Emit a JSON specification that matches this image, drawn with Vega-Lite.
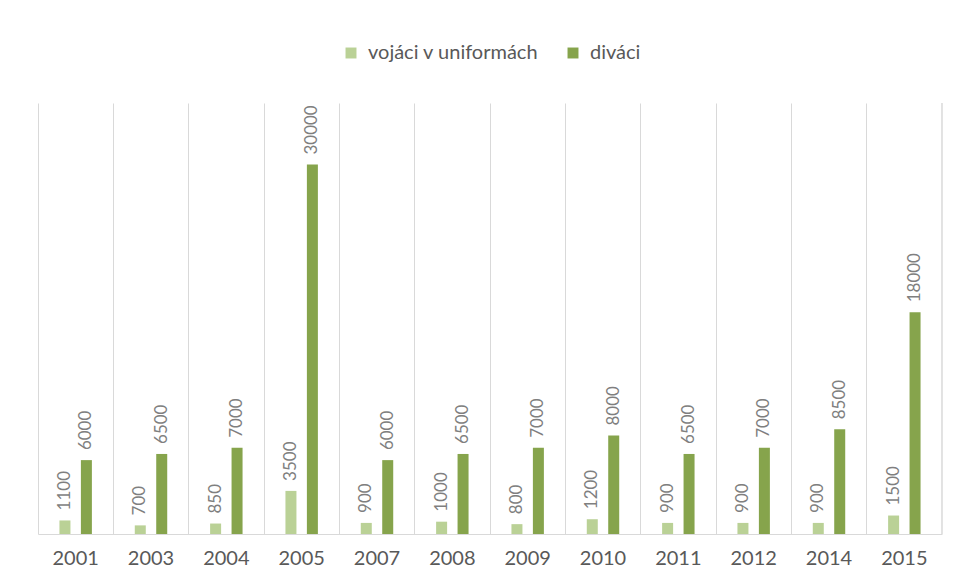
{
  "$schema": "https://vega.github.io/schema/vega-lite/v6.json",
  "width": 904,
  "height": 431,
  "autosize": {"type": "none"},
  "padding": {"top": 103, "left": 38, "right": 15, "bottom": 51},
  "background": "white",
  "config": {"view": {"stroke": null}, "font": "Lato"},
  "data": {
    "values": [
      {"year": "2001", "series": "vojáci v uniformách", "value": 1100},
      {"year": "2001", "series": "diváci", "value": 6000},
      {"year": "2003", "series": "vojáci v uniformách", "value": 700},
      {"year": "2003", "series": "diváci", "value": 6500},
      {"year": "2004", "series": "vojáci v uniformách", "value": 850},
      {"year": "2004", "series": "diváci", "value": 7000},
      {"year": "2005", "series": "vojáci v uniformách", "value": 3500},
      {"year": "2005", "series": "diváci", "value": 30000},
      {"year": "2007", "series": "vojáci v uniformách", "value": 900},
      {"year": "2007", "series": "diváci", "value": 6000},
      {"year": "2008", "series": "vojáci v uniformách", "value": 1000},
      {"year": "2008", "series": "diváci", "value": 6500},
      {"year": "2009", "series": "vojáci v uniformách", "value": 800},
      {"year": "2009", "series": "diváci", "value": 7000},
      {"year": "2010", "series": "vojáci v uniformách", "value": 1200},
      {"year": "2010", "series": "diváci", "value": 8000},
      {"year": "2011", "series": "vojáci v uniformách", "value": 900},
      {"year": "2011", "series": "diváci", "value": 6500},
      {"year": "2012", "series": "vojáci v uniformách", "value": 900},
      {"year": "2012", "series": "diváci", "value": 7000},
      {"year": "2014", "series": "vojáci v uniformách", "value": 900},
      {"year": "2014", "series": "diváci", "value": 8500},
      {"year": "2015", "series": "vojáci v uniformách", "value": 1500},
      {"year": "2015", "series": "diváci", "value": 18000}
    ]
  },
  "encoding": {
    "x": {
      "field": "year",
      "type": "nominal",
      "scale": {"paddingInner": 0, "paddingOuter": 0},
      "axis": {
        "title": null,
        "labelAngle": 0,
        "labelFontSize": 20,
        "labelColor": "#595959",
        "labelPadding": 14,
        "ticks": false,
        "grid": true,
        "gridColor": "#d9d9d9",
        "gridWidth": 1,
        "domainColor": "#d9d9d9",
        "domainWidth": 1,
        "bandPosition": 0
      }
    },
    "xOffset": {
      "field": "series",
      "type": "nominal",
      "sort": ["vojáci v uniformách", "diváci"],
      "scale": {"paddingInner": 0.487, "paddingOuter": 1.17}
    },
    "y": {
      "field": "value",
      "type": "quantitative",
      "scale": {"domain": [0, 35000]},
      "axis": null
    }
  },
  "layer": [
    {
      "mark": {"type": "bar"},
      "encoding": {
        "color": {
          "field": "series",
          "type": "nominal",
          "sort": ["vojáci v uniformách", "diváci"],
          "scale": {"domain": ["vojáci v uniformách", "diváci"], "range": ["#bad196", "#86a44c"]},
          "legend": {
            "title": null,
            "orient": "none",
            "direction": "horizontal",
            "legendX": 303,
            "legendY": -60,
            "labelFontSize": 20,
            "labelColor": "#595959",
            "labelFont": "Lato",
            "labelLimit": 0,
            "symbolType": "square",
            "symbolSize": 120,
            "symbolStrokeWidth": 0,
            "labelOffset": 7,
            "columnPadding": 24
          }
        }
      }
    },
    {
      "mark": {
        "type": "text",
        "angle": 270,
        "align": "left",
        "baseline": "middle",
        "dx": 10,
        "fontSize": 17,
        "font": "Lato",
        "color": "#7f7f7f"
      },
      "encoding": {"text": {"field": "value", "type": "quantitative", "format": "d"}}
    },
    {
      "transform": [{"filter": {"field": "year", "equal": "2015"}}],
      "mark": {"type": "rule", "color": "#d9d9d9", "strokeWidth": 1},
      "encoding": {
        "x": {"field": "year", "type": "nominal", "bandPosition": 1},
        "y": null,
        "xOffset": null
      }
    }
  ]
}
